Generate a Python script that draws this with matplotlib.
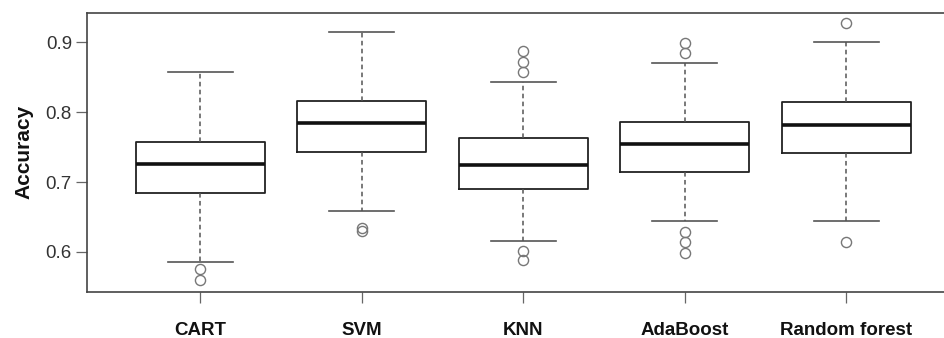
import matplotlib
matplotlib.use("Agg")
import matplotlib.pyplot as plt

plt.rcParams["font.family"] = ["Liberation Sans", "DejaVu Sans"]

# values
models = ["CART", "SVM", "KNN", "AdaBoost", "Random forest"]
whisker_low = [0.586, 0.658, 0.616, 0.644, 0.645]
q1 = [0.685, 0.743, 0.690, 0.714, 0.741]
median = [0.726, 0.785, 0.724, 0.755, 0.782]
q3 = [0.758, 0.816, 0.763, 0.786, 0.814]
whisker_high = [0.857, 0.914, 0.843, 0.871, 0.900]
outliers = [
    [0.576, 0.560],
    [0.635, 0.630],
    [0.888, 0.872, 0.857, 0.602, 0.588],
    [0.899, 0.884, 0.629, 0.614, 0.599],
    [0.927, 0.614],
]

stats = []
for i, name in enumerate(models):
    stats.append({
        "label": name,
        "whislo": whisker_low[i],
        "q1": q1[i],
        "med": median[i],
        "q3": q3[i],
        "whishi": whisker_high[i],
        "fliers": outliers[i],
    })

fig = plt.figure(figsize=(9.44, 3.38), dpi=100)
ax = fig.add_axes([87.25 / 944, 1 - 291.7 / 338, (959.3 - 87.25) / 944, (291.7 - 12.7) / 338])

line_col = "#222222"
grey = "#555555"
ax.bxp(
    stats,
    positions=range(1, 6),
    widths=0.8,
    showfliers=True,
    boxprops=dict(color=line_col, linewidth=1.3),
    medianprops=dict(color="#111111", linewidth=2.6),
    whiskerprops=dict(color=grey, linewidth=1.1, linestyle=(0, (3, 2.2))),
    capprops=dict(color=grey, linewidth=1.2),
    capwidths=0.4,
    flierprops=dict(marker="o", markersize=7.3, markerfacecolor="none",
                    markeredgecolor="#777777", markeredgewidth=1.0),
)

ax.set_xlim(0.3, 5.7)
ax.set_ylim(0.5432, 0.9423)
ax.set_yticks([0.6, 0.7, 0.8, 0.9])
ax.set_yticklabels(["0.6", "0.7", "0.8", "0.9"])
ax.set_xticks(range(1, 6))
ax.set_xticklabels(models, fontweight="bold", fontsize=13.5, color="#111111")
ax.tick_params(axis="y", length=8, width=0.9, color="#666666", labelsize=13.5,
               labelcolor="#333333", pad=3)
ax.tick_params(axis="x", length=8, width=0.9, color="#666666", pad=13.5)
ax.set_ylabel("Accuracy", fontweight="bold", fontsize=15, color="#111111", labelpad=9)

for side in ["left", "bottom", "top", "right"]:
    ax.spines[side].set_color("#444444")
    ax.spines[side].set_linewidth(1.2)

fig.savefig("out.png", dpi=100)
